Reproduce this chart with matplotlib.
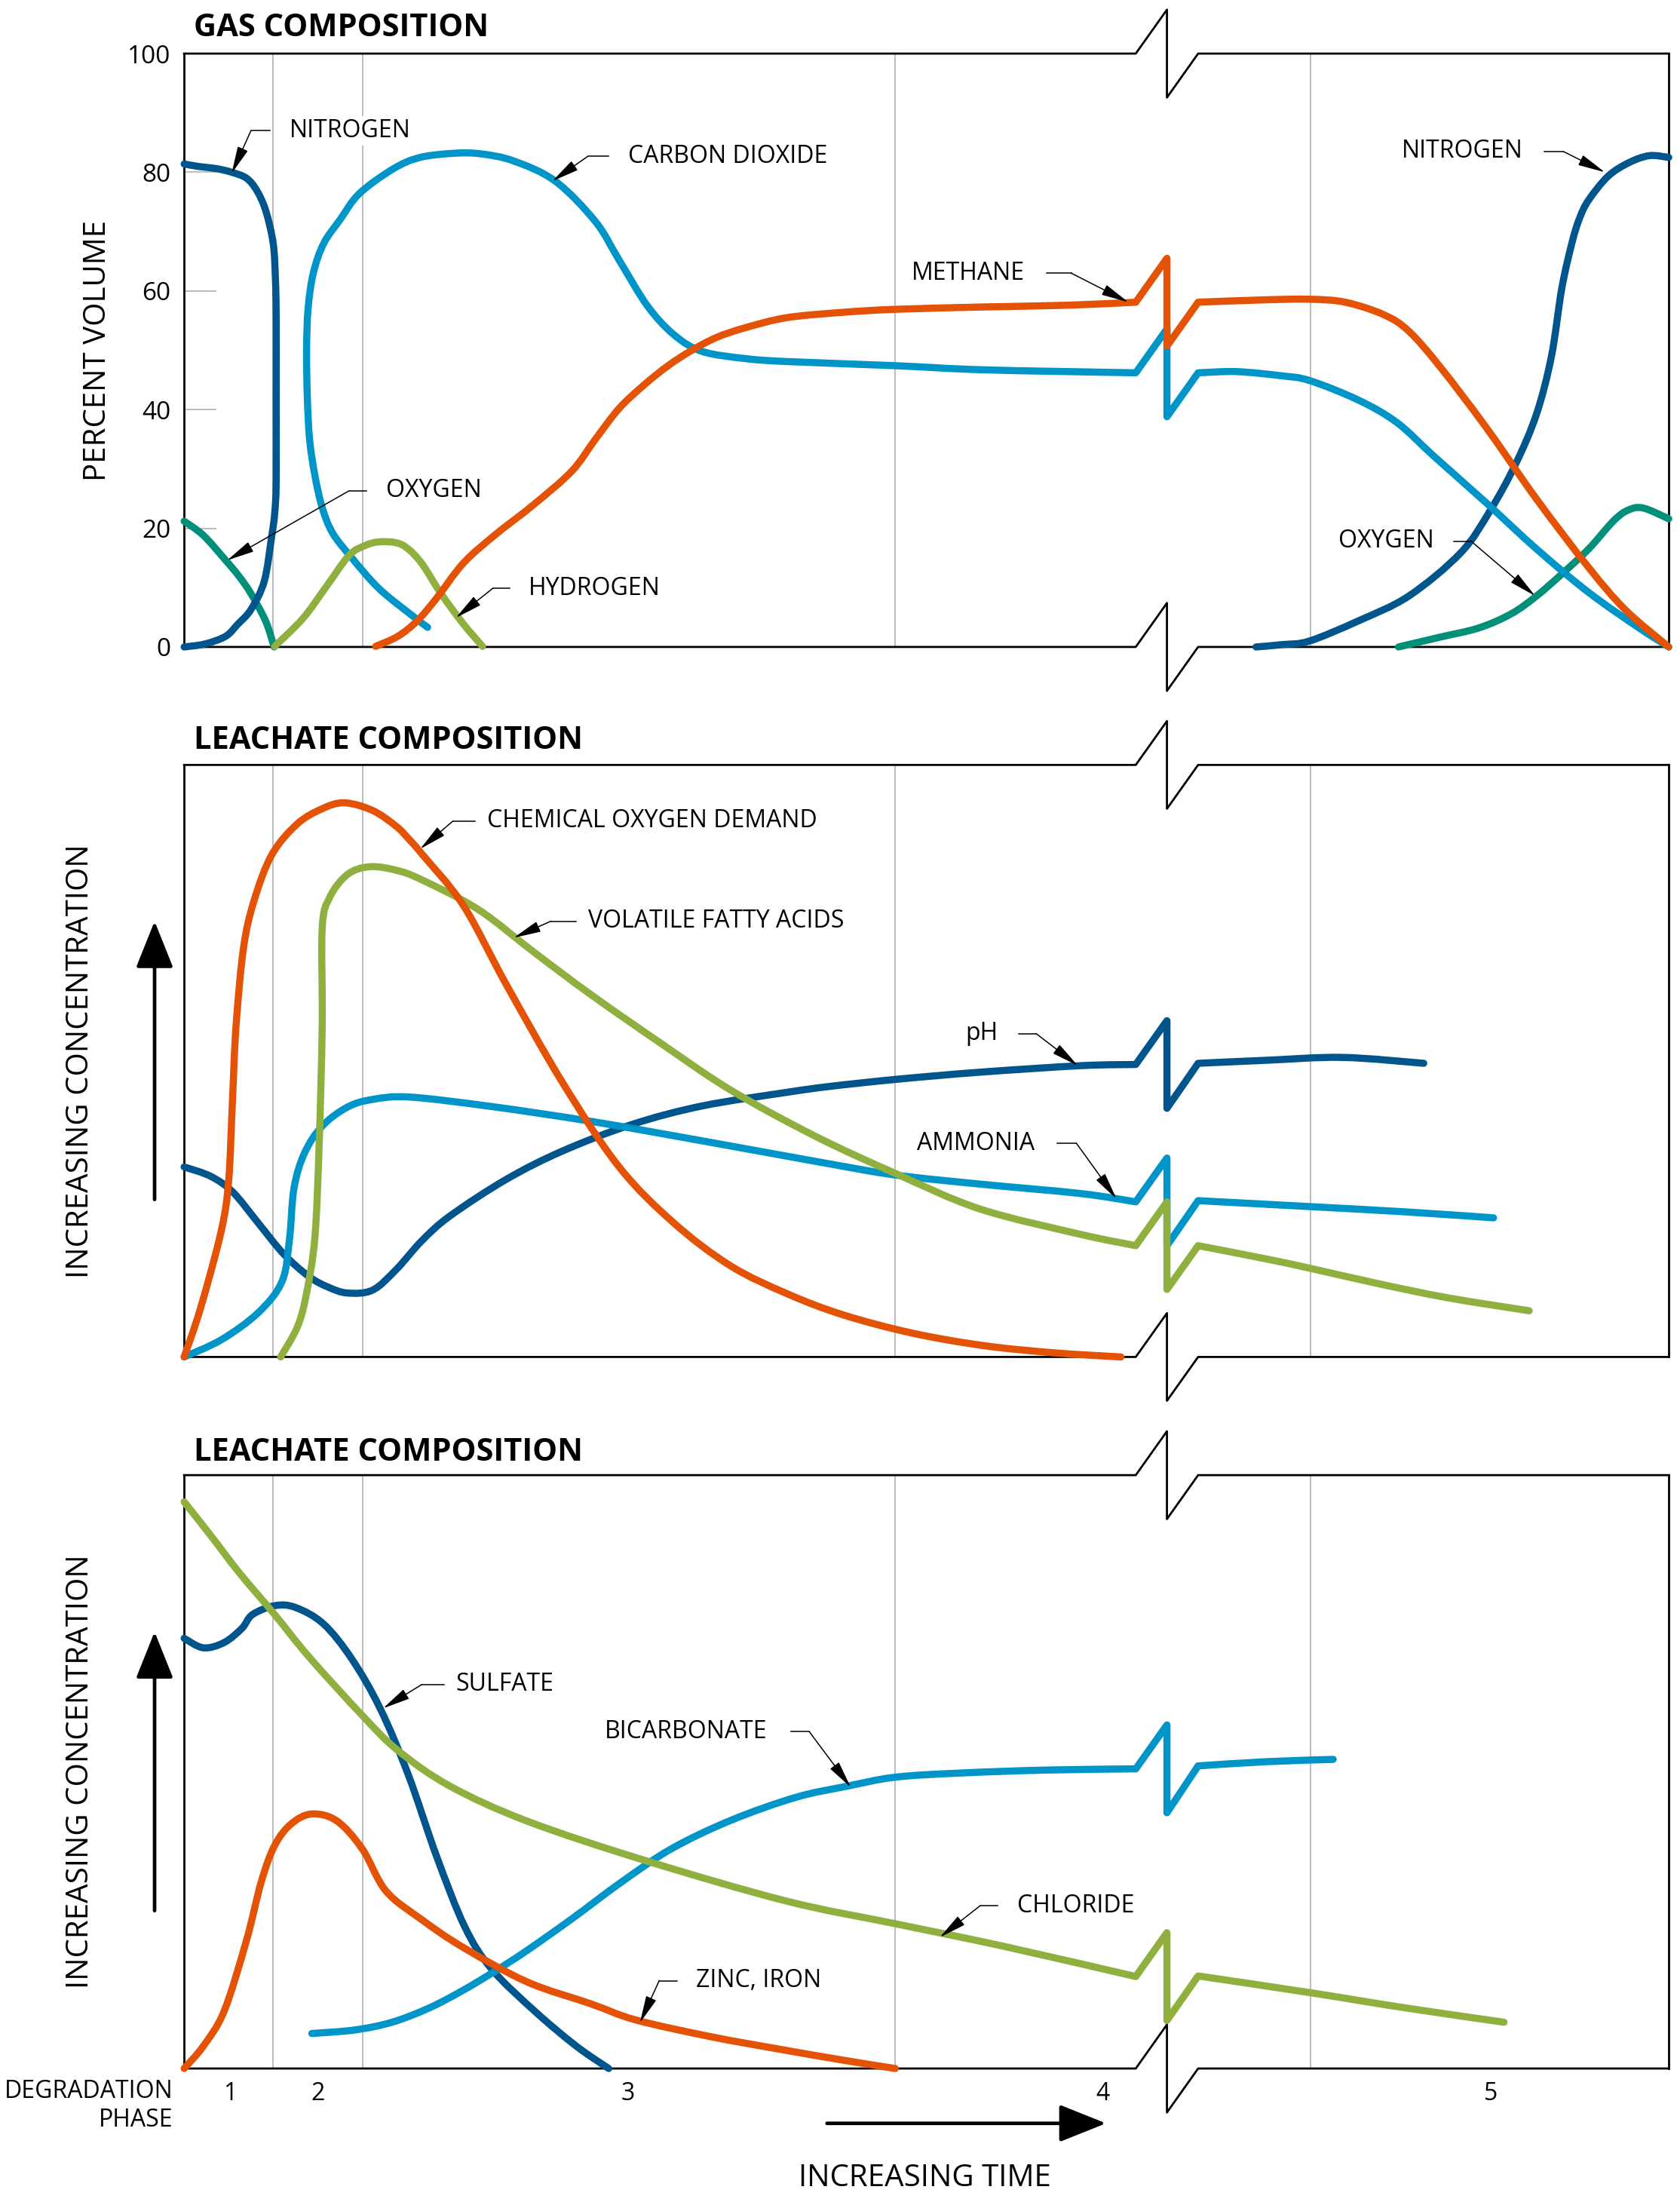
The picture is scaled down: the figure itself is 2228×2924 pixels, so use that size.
import matplotlib
matplotlib.use("Agg")
import matplotlib.pyplot as plt
from matplotlib.path import Path
from matplotlib.patches import PathPatch

plt.rcParams['font.family'] = ['Open Sans', 'DejaVu Sans']

DARK = '#00558C'
LIGHT = '#0095C8'
ORANGE = '#E35205'
GREEN = '#8FAF3F'
TEAL = '#00907A'
GRID = '#BDBDBD'

# phase boundaries / labels (time axis is 0..100, arbitrary units)
phase_lines = [5.97, 12.03, 47.9, 75.85]
phase_ticks = [3.1, 9.0, 29.9, 61.9, 88.0]
phase_labels = ['1', '2', '3', '4', '5']
gas_ticks = [0, 20, 40, 60, 80, 100]

# ---- gas composition (percent volume) ----
n2_a_x = [0, 0.9, 2.2, 3.2, 4.2, 4.9, 5.5, 6.0, 6.15, 6.2, 6.2, 6.2, 6.1, 5.9, 5.4, 4.5, 3.6, 2.8, 1.4, 0]
n2_a_y = [81.4, 81.0, 80.6, 80.0, 79.0, 76.9, 73.5, 68.0, 62.0, 55.5, 41.7, 27.7, 22.5, 18.7, 11.1, 6.3, 3.8, 1.8, 0.5, 0]
n2_b_x = [72.2, 74.0, 75.8, 79.1, 82.5, 86.0, 88.0, 89.7, 91.1, 92.1, 92.8, 93.5, 94.0, 94.6, 95.9, 97.3, 98.7, 100]
n2_b_y = [0, 0.4, 1.0, 4.4, 8.6, 15.9, 23.1, 30.9, 39.3, 49.0, 60.5, 68.3, 72.3, 75.3, 79.3, 81.6, 82.8, 82.5]

o2_a_x = [0, 1.3, 2.8, 3.7, 4.5, 5.5, 6.06]
o2_a_y = [21.2, 18.8, 14.6, 11.9, 9.0, 4.3, 0]
o2_b_x = [81.8, 84.5, 87.2, 89.4, 91.1, 92.8, 94.6, 96.3, 97.3, 98.3, 100]
o2_b_y = [0, 1.6, 3.2, 5.6, 8.6, 12.3, 16.5, 21.3, 23.1, 23.4, 21.6]

co2_a_x = [16.4, 15.2, 13.1, 11.3, 10.0, 9.3, 8.8, 8.45, 8.3, 8.25, 8.35, 8.7, 9.4, 10.5, 11.8, 14.1, 15.9,
           18.2, 20.0, 22.2, 25.0, 27.7, 29.3, 31.2, 33.0, 34.9, 37.8, 40.6, 47.9, 53.9, 64.1]
co2_a_y = [3.3, 5.6, 9.9, 15.0, 19.2, 23.5, 29.0, 35.0, 42.0, 50.0, 57.0, 63.0, 68.0, 72.0, 76.4, 80.6, 82.5,
           83.2, 83.1, 81.9, 78.5, 71.7, 65.2, 57.5, 52.6, 49.8, 48.6, 48.1, 47.4, 46.7, 46.2]
co2_b_x = [68.3, 70.9, 73.9, 75.8, 79.1, 81.7, 84.2, 87.7, 91.1, 94.6, 98.0, 100]
co2_b_y = [46.2, 46.4, 45.7, 44.9, 41.6, 37.8, 32.1, 24.3, 16.5, 9.2, 3.2, 0]

ch4_a_x = [12.9, 14.4, 15.7, 17.0, 18.8, 20.9, 23.5, 26.1, 27.7, 29.3, 31.0, 32.6, 34.2, 35.9, 37.8,
           40.6, 44.4, 47.9, 53.9, 59.6, 64.1]
ch4_a_y = [0.1, 1.8, 4.4, 8.2, 14.1, 18.8, 23.9, 29.6, 35.0, 40.2, 44.2, 47.4, 50.0, 52.2, 53.8,
           55.5, 56.4, 56.9, 57.3, 57.6, 58.1]
ch4_b_x = [68.3, 72.8, 75.8, 78.2, 80.8, 82.5, 84.6, 87.7, 91.1, 94.6, 97.1, 100]
ch4_b_y = [58.1, 58.5, 58.6, 58.1, 56.0, 53.2, 47.2, 37.0, 24.9, 13.4, 6.2, 0]

h2_x = [6.1, 8.0, 9.5, 11.1, 12.2, 13.1, 14.2, 15.0, 16.0, 17.3, 18.8, 20.1]
h2_y = [0.1, 4.8, 9.9, 15.4, 17.1, 17.7, 17.6, 16.7, 14.1, 9.0, 3.9, 0.1]

# ---- leachate composition (relative concentration) ----
cod_x = [0, 1.1, 2.5, 3.0, 3.25, 3.5, 4.0, 4.7, 5.9, 7.6, 9.3, 10.8, 12.7, 14.3, 15.2, 16.0, 18.8,
         21.7, 25.5, 29.3, 33.0, 36.8, 40.6, 44.4, 49.1, 53.9, 58.6, 63.1]
cod_y = [0, 8.2, 21.3, 29.8, 43.0, 56.0, 69.1, 77.0, 84.8, 90.0, 92.6, 93.6, 92.3, 89.6, 87.3, 85.0, 76.3,
         62.9, 46.3, 32.1, 22.6, 15.4, 10.7, 7.1, 4.0, 1.9, 0.7, 0]

vfa_a_x = [6.5, 7.6, 8.2, 8.8, 9.1, 9.3, 9.3, 9.8, 11.0, 12.5, 14.3, 16.0, 19.8, 23.6, 27.4, 32.1,
           36.8, 42.5, 48.0, 53.6, 60.4, 64.1]
vfa_a_y = [0, 4.9, 10.2, 20.0, 36.3, 56.0, 72.4, 77.6, 81.5, 82.8, 82.2, 80.6, 75.6, 68.3, 61.2, 53.0,
           45.1, 37.3, 30.9, 25.0, 20.7, 18.8]
vfa_b_x = [68.3, 72.8, 75.8, 80.4, 85.1, 90.6]
vfa_b_y = [18.8, 16.6, 15.0, 12.4, 10.0, 7.8]

nh3_a_x = [0, 2.5, 5.0, 6.6, 7.1, 7.4, 8.1, 9.3, 11.0, 12.7, 15.2, 20.7, 27.4, 34.9, 43.5, 48.0,
           53.6, 60.4, 64.1]
nh3_a_y = [0, 2.9, 7.5, 12.8, 20.0, 28.5, 34.4, 39.0, 42.2, 43.5, 43.9, 42.3, 39.8, 36.5, 32.6, 30.7,
           29.2, 27.6, 26.2]
nh3_b_x = [68.3, 75.8, 82.3, 88.2]
nh3_b_y = [26.4, 25.4, 24.5, 23.5]

ph_a_x = [0, 1.8, 3.3, 5.0, 6.7, 8.4, 9.7, 11.0, 12.7, 14.3, 16.0, 17.9, 21.7, 25.5, 30.2, 34.9,
          40.6, 43.5, 48.0, 53.6, 60.4, 64.1]
ph_a_y = [32.1, 30.5, 27.8, 22.6, 17.4, 13.6, 11.8, 10.8, 11.3, 14.8, 19.6, 23.8, 30.0, 34.8, 39.3, 42.4,
          44.7, 45.7, 46.9, 48.1, 49.2, 49.4]
ph_b_x = [68.3, 72.8, 78.0, 83.5]
ph_b_y = [49.6, 50.1, 50.6, 49.6]

so4_x = [0, 1.3, 2.7, 3.9, 4.6, 6.1, 7.5, 9.4, 11.3, 13.2, 15.1, 17.0, 18.9, 20.7, 23.6, 26.4, 28.6]
so4_y = [72.5, 70.9, 71.8, 74.2, 76.5, 78.0, 77.7, 74.9, 69.0, 60.7, 49.5, 35.8, 23.9, 16.8, 9.7, 3.8, 0]

cl_a_x = [0, 1.8, 3.7, 6.1, 8.4, 12.0, 14.4, 17.9, 23.1, 31.0, 40.6, 47.9, 55.2, 64.1]
cl_a_y = [95.5, 89.8, 83.6, 76.5, 69.4, 59.5, 53.6, 47.6, 41.7, 35.1, 28.2, 24.4, 20.6, 15.5]
cl_b_x = [68.3, 75.8, 82.3, 88.9]
cl_b_y = [15.6, 12.8, 10.2, 7.8]

hco3_a_x = [8.6, 11.5, 14.0, 16.5, 18.8, 21.0, 23.1, 26.1, 29.5, 32.8, 36.8, 41.2, 44.7, 47.9, 52.3,
            58.1, 64.1]
hco3_a_y = [5.9, 6.5, 7.8, 10.2, 13.2, 16.5, 19.9, 25.2, 31.5, 37.0, 41.8, 45.7, 47.6, 49.1, 49.8,
            50.3, 50.5]
hco3_b_x = [68.3, 72.8, 77.4]
hco3_b_y = [51.0, 51.7, 52.1]

zn_x = [0, 1.3, 2.7, 4.2, 5.2, 6.1, 7.2, 8.6, 10.3, 12.0, 13.6, 16.0, 18.8, 23.1, 27.4, 30.4, 35.4,
        40.0, 44.4, 47.9]
zn_y = [0, 3.8, 9.7, 21.6, 31.5, 37.6, 41.2, 42.9, 41.7, 37.0, 29.9, 25.1, 20.4, 14.6, 10.9, 8.2, 5.4,
        3.3, 1.4, 0]

BREAK_X = (64.1, 66.2, 68.3)
BREAK_H = 7.4


def smooth(pts):
    # catmull-rom through the points, handed to matplotlib as cubic bezier pieces
    n = len(pts)
    verts, codes = [], []
    for i in range(n - 1):
        p0 = pts[max(i - 1, 0)]
        p1 = pts[i]
        p2 = pts[i + 1]
        p3 = pts[min(i + 2, n - 1)]
        c1 = (p1[0] + (p2[0] - p0[0]) / 6, p1[1] + (p2[1] - p0[1]) / 6)
        c2 = (p2[0] - (p3[0] - p1[0]) / 6, p2[1] - (p3[1] - p1[1]) / 6)
        verts += [c1, c2, p2]
        codes += [Path.CURVE4] * 3
    return verts, codes


def curve(ax, xa, ya, color, xb=None, yb=None):
    pts = list(zip(xa, ya))
    verts, codes = [pts[0]], [Path.MOVETO]
    v, c = smooth(pts)
    verts += v
    codes += c
    if xb is not None:
        y0 = ya[-1]
        verts += [(BREAK_X[1], y0 + BREAK_H), (BREAK_X[1], y0 - BREAK_H), (xb[0], yb[0])]
        codes += [Path.LINETO] * 3
        v, c = smooth(list(zip(xb, yb)))
        verts += v
        codes += c
    ax.add_patch(PathPatch(Path(verts, codes), fill=False, edgecolor=color, lw=6.8,
                           capstyle='round', joinstyle='round', clip_on=False, zorder=3))


def frame_edge(y):
    x = [0, BREAK_X[0], BREAK_X[1], BREAK_X[1], BREAK_X[2], 100]
    yy = [y, y, y + BREAK_H, y - BREAK_H, y, y]
    return x, yy


def callout(ax, label, txy, ha, near, elbow, tip):
    ax.text(txy[0], txy[1], label, ha=ha, va='center', fontsize=23, zorder=4,
            bbox=dict(fc='white', ec='none', pad=2))
    ax.plot([near, elbow], [txy[1], txy[1]], color='black', lw=1.1, zorder=4)
    ax.annotate('', xy=tip, xytext=(elbow, txy[1]),
                arrowprops=dict(arrowstyle='-|>,head_length=0.5,head_width=0.1',
                                mutation_scale=45, lw=1.1, color='black',
                                shrinkA=0, shrinkB=0), zorder=4)


def setup(ax, title, ty):
    ax.set_xlim(0, 100)
    ax.set_ylim(0, 100)
    for s in ax.spines.values():
        s.set_visible(False)
    ax.set_xticks([])
    ax.set_yticks([])
    for x in phase_lines:
        ax.plot([x, x], [0, 100], color=GRID, lw=1.4, zorder=1)
    for y in (0, 100):
        ax.plot(*frame_edge(y), color='black', lw=2, clip_on=False, zorder=2)
    ax.plot([0, 0], [0, 100], color='black', lw=2, clip_on=False, zorder=2)
    ax.plot([100, 100], [0, 100], color='black', lw=2, clip_on=False, zorder=2)
    ax.text(0.0066, ty, title, transform=ax.transAxes, fontsize=30, fontweight='bold',
            ha='left', va='center')


def conc_axis(ax):
    ax.set_ylabel('INCREASING CONCENTRATION', fontsize=29)
    ax.yaxis.set_label_coords(-0.0597, 0.5)
    ax.annotate('', xy=(-0.0199, 0.736), xytext=(-0.0199, 0.266), xycoords='axes fraction',
                arrowprops=dict(arrowstyle='-|>,head_length=0.55,head_width=0.22',
                                mutation_scale=70, lw=3.4, color='black',
                                shrinkA=0, shrinkB=0))


fig = plt.figure(figsize=(22.28, 29.24), dpi=100)
ax1 = fig.add_axes([0.1096, 0.7066, 0.8837, 0.2691])
ax2 = fig.add_axes([0.1096, 0.3846, 0.8837, 0.2685])
ax3 = fig.add_axes([0.1096, 0.0619, 0.8837, 0.2691])

# ---------------- gas composition ----------------
setup(ax1, 'GAS COMPOSITION', 1.043)
ax1.set_yticks(gas_ticks)
ax1.tick_params(axis='y', length=0, pad=13, labelsize=24)
for t in gas_ticks[1:-1]:
    ax1.plot([0, 2.1], [t, t], color=GRID, lw=1.4, zorder=1)
ax1.set_ylabel('PERCENT VOLUME', fontsize=29)
ax1.yaxis.set_label_coords(-0.048, 0.5)

curve(ax1, o2_a_x, o2_a_y, TEAL)
curve(ax1, o2_b_x, o2_b_y, TEAL)
curve(ax1, n2_a_x, n2_a_y, DARK)
curve(ax1, n2_b_x, n2_b_y, DARK)
curve(ax1, co2_a_x, co2_a_y, LIGHT, co2_b_x, co2_b_y)
curve(ax1, h2_x, h2_y, GREEN)
curve(ax1, ch4_a_x, ch4_a_y, ORANGE, ch4_b_x, ch4_b_y)

callout(ax1, 'NITROGEN', (7.1, 87.0), 'left', 5.8, 4.5, (3.2, 79.8))
callout(ax1, 'CARBON DIOXIDE', (29.9, 82.7), 'left', 28.6, 27.2, (24.8, 78.5))
callout(ax1, 'METHANE', (49.0, 63.0), 'left', 58.1, 59.75, (63.6, 58.1))
callout(ax1, 'OXYGEN', (13.6, 26.3), 'left', 12.3, 11.1, (2.9, 14.6))
callout(ax1, 'HYDROGEN', (23.2, 9.9), 'left', 21.95, 20.8, (18.3, 4.9))
callout(ax1, 'NITROGEN', (90.2, 83.5), 'right', 91.6, 92.9, (95.7, 80.0))
callout(ax1, 'OXYGEN', (84.2, 17.8), 'right', 85.5, 86.7, (91.0, 8.6))

# ---------------- leachate 1 ----------------
setup(ax2, 'LEACHATE COMPOSITION', 1.040)
conc_axis(ax2)
curve(ax2, ph_a_x, ph_a_y, DARK, ph_b_x, ph_b_y)
curve(ax2, nh3_a_x, nh3_a_y, LIGHT, nh3_b_x, nh3_b_y)
curve(ax2, vfa_a_x, vfa_a_y, GREEN, vfa_b_x, vfa_b_y)
curve(ax2, cod_x, cod_y, ORANGE)

callout(ax2, 'CHEMICAL OXYGEN DEMAND', (20.4, 90.5), 'left', 19.6, 18.1, (15.9, 85.8))
callout(ax2, 'VOLATILE FATTY ACIDS', (27.2, 73.6), 'left', 26.4, 24.7, (22.2, 70.8))
callout(ax2, 'pH', (54.8, 54.6), 'right', 56.2, 57.4, (60.2, 49.2))
callout(ax2, 'AMMONIA', (57.3, 36.1), 'right', 58.8, 60.1, (62.8, 26.7))

# ---------------- leachate 2 ----------------
setup(ax3, 'LEACHATE COMPOSITION', 1.038)
conc_axis(ax3)
ax3.set_xticks(phase_ticks, phase_labels)
ax3.tick_params(axis='x', length=0, pad=12, labelsize=23)
curve(ax3, so4_x, so4_y, DARK)
curve(ax3, hco3_a_x, hco3_a_y, LIGHT, hco3_b_x, hco3_b_y)
curve(ax3, cl_a_x, cl_a_y, GREEN, cl_b_x, cl_b_y)
curve(ax3, zn_x, zn_y, ORANGE)

callout(ax3, 'SULFATE', (18.3, 64.7), 'left', 17.5, 16.0, (13.4, 60.7))
callout(ax3, 'BICARBONATE', (39.3, 56.8), 'right', 40.9, 42.1, (44.9, 47.4))
callout(ax3, 'CHLORIDE', (56.1, 27.4), 'left', 54.8, 53.6, (50.9, 22.1))
callout(ax3, 'ZINC, IRON', (34.5, 14.8), 'left', 33.2, 32.0, (30.7, 7.7))

ax3.text(-0.0076, -0.0628, 'DEGRADATION\nPHASE', transform=ax3.transAxes, ha='right',
         va='center', fontsize=23, linespacing=1.2, multialignment='right')
ax3.annotate('', xy=(0.621, -0.0924), xytext=(0.433, -0.0924), xycoords='axes fraction',
             arrowprops=dict(arrowstyle='-|>,head_length=0.55,head_width=0.22',
                             mutation_scale=70, lw=3.4, color='black', shrinkA=0, shrinkB=0))
ax3.text(0.499, -0.185, 'INCREASING TIME', transform=ax3.transAxes, ha='center',
         va='center', fontsize=29)

fig.savefig('out.png', dpi=100, facecolor='white')
